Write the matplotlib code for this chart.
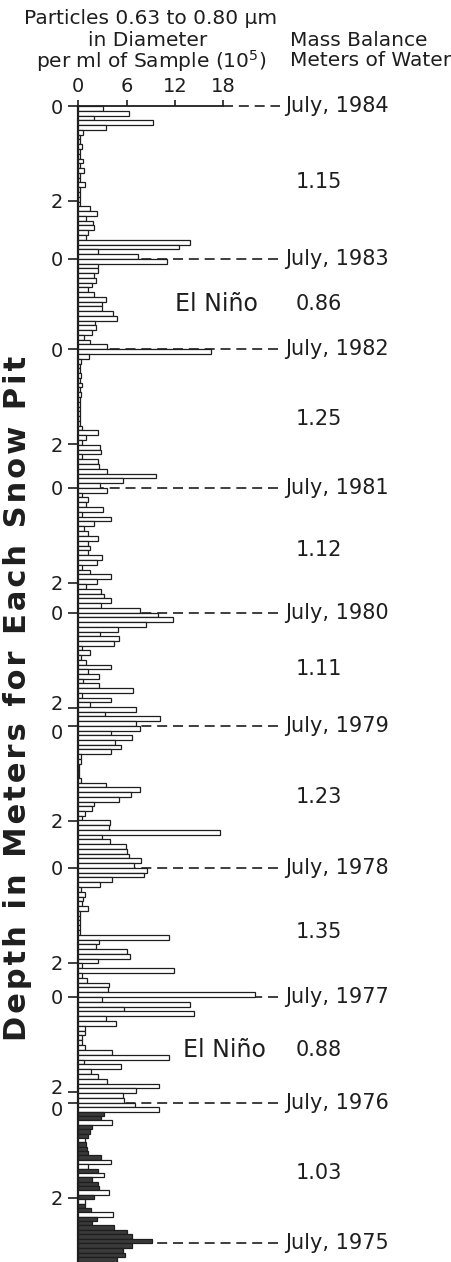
import matplotlib
matplotlib.use('Agg')
import matplotlib.pyplot as plt
from matplotlib.transforms import ScaledTranslation
import numpy as np

plt.rcParams['font.family'] = ['DejaVu Sans']

# July horizons, depth on a common scale (m) from the top of the 1984 pit
years = [1984, 1983, 1982, 1981, 1980, 1979, 1978, 1977, 1976, 1975]
july_depth = [0.0, 3.22, 5.12, 8.04, 10.67, 13.05, 16.04, 18.76, 20.99, 23.94]
bottom_depth = 24.34
# years whose pit shows a "2 m" tick below the July horizon
two_m_years = [1984, 1982, 1981, 1980, 1979, 1978, 1977, 1976]

mass_balance = ['1.15', '0.86', '1.25', '1.12', '1.11', '1.23', '1.35', '0.88', '1.03']
el_nino_layers = [1, 7]   # index of the layer (below that July line)

# particle counts (10^5 per ml), top to bottom, one list per annual layer
counts_1984 = [3.1, 6.3, 1.9, 9.3, 3.4, 0.6, 0.2, 0.15, 0.5, 0.15, 0.15, 0.6, 0.15, 0.7, 0.15, 0.15,
               0.8, 0.15, 0.15, 0.15, 0.2, 1.5, 2.3, 1.0, 1.8, 1.9, 1.2, 0.9, 13.9, 12.5, 2.5, 7.4]
counts_1983 = [11.0, 2.5, 2.5, 1.9, 2.2, 1.7, 1.2, 1.9, 3.4, 2.9, 3.0, 4.3, 4.8, 2.1, 2.2, 1.7,
               0.7, 1.4, 3.5]
counts_1982 = [16.4, 1.3, 0.3, 0.2, 0.2, 0.3, 0.2, 0.4, 0.2, 0.3, 0.2, 0.2, 0.2, 0.2, 0.2, 0.2,
               0.4, 2.4, 0.9, 0.4, 2.7, 2.8, 0.5, 2.4, 2.6, 3.5, 9.7, 5.5, 2.7]
counts_1981 = [3.5, 0.5, 1.2, 0.9, 3.1, 0.5, 4.0, 1.9, 0.7, 1.2, 2.4, 1.2, 1.4, 1.2, 2.9, 2.3,
               0.5, 1.4, 4.0, 2.3, 1.0, 2.8, 3.2, 4.1, 2.8, 7.6]
counts_1980 = [9.9, 11.7, 8.4, 4.9, 2.7, 5.0, 4.4, 0.4, 1.4, 0.3, 0.9, 4.0, 1.2, 2.6, 0.6, 2.6,
               6.8, 0.4, 4.0, 1.4, 7.2, 3.3, 10.1, 7.1]
counts_1979 = [7.7, 4.0, 6.7, 4.6, 5.3, 4.1, 0.3, 0.3, 0.1, 0.1, 0.1, 0.3, 3.4, 7.7, 6.5, 5.0,
               2.0, 1.7, 0.8, 0.4, 3.9, 3.8, 17.6, 3.0, 3.9, 5.9, 6.1, 6.3, 7.8, 6.9]
counts_1978 = [8.5, 8.1, 4.2, 2.7, 0.3, 0.8, 0.6, 0.5, 1.2, 0.2, 0.2, 0.2, 0.2, 0.2, 11.3, 2.6,
               2.2, 6.0, 6.4, 2.4, 0.5, 11.9, 0.5, 1.1, 3.8, 3.7, 21.9]
counts_1977 = [2.9, 13.9, 5.7, 14.4, 3.4, 4.7, 0.8, 0.8, 0.5, 0.4, 0.8, 4.2, 11.3, 0.7, 5.3, 1.6,
               2.4, 3.6, 10.0, 7.2, 5.5, 5.7]
counts_1976 = [7.0, 10.0, 3.2, 2.8, 4.2, 1.7, 1.5, 1.2, 0.8, 1.0, 1.1, 1.2, 2.8, 4.0, 1.2, 2.4,
               3.2, 1.7, 2.5, 2.6, 3.8, 2.0, 0.8, 0.8, 1.6, 4.3, 2.3, 1.7, 4.4, 6.1, 6.6, 9.2]
counts_1975 = [6.6, 5.6, 5.8, 4.8]
# dark (1) or open (0) bars in the lowest pit
dark_1976 = [0, 0, 1, 1, 0, 1, 1, 1, 0, 1, 1, 1, 1, 0, 0, 1, 0, 1, 1, 1, 0, 1, 0, 1, 1, 0, 1, 1,
             1, 1, 1, 1]
dark_1975 = [1, 1, 1, 1]

layers = [counts_1984, counts_1983, counts_1982, counts_1981, counts_1980,
          counts_1979, counts_1978, counts_1977, counts_1976, counts_1975]
shading = [None] * 8 + [dark_1976, dark_1975]

xticks = [0, 6, 12, 18]

ink = '#1e1e1e'
fig = plt.figure(figsize=(4.52, 12.62), dpi=100)
ax = fig.add_axes([78.3 / 452, 0, 145.1 / 452, 1156 / 1262])

bounds = july_depth + [bottom_depth]
for i, vals in enumerate(layers):
    top, bot = bounds[i], bounds[i + 1]
    h = (bot - top) / len(vals)
    centers = top + h * (np.arange(len(vals)) + 0.5)
    if shading[i] is None:
        fills = ['white'] * len(vals)
    else:
        fills = ['#3a3a3a' if d else 'white' for d in shading[i]]
    ax.barh(centers, vals, height=h, color=fills, edgecolor=ink, linewidth=0.9,
            clip_on=False, zorder=3)

# July horizons
for yr, d in zip(years, july_depth):
    x0 = 18 if yr == 1984 else 0
    ax.plot([x0, 25.0], [d, d], ls=(0, (6, 3.5)), color=ink, lw=1.2,
            clip_on=False, zorder=2)
    ax.text(25.65, d, f'July, {yr}', va='center', ha='left', fontsize=15, color=ink)

# mass balance and El Nino labels
for i, mb in enumerate(mass_balance):
    mid = (bounds[i] + bounds[i + 1]) / 2
    ax.text(27.0, mid, mb, va='center', ha='left', fontsize=15, color=ink)
    if i in el_nino_layers:
        ax.text(12.0 if i == 1 else 13.0, mid, 'El Niño', va='center', ha='left',
                fontsize=17, color=ink)

ax.set_xlim(0, 18)
ax.set_ylim(bottom_depth, 0)
for side in ['right', 'bottom']:
    ax.spines[side].set_visible(False)
ax.spines['left'].set_linewidth(1.6)
ax.spines['top'].set_linewidth(1.3)
ax.spines['left'].set_color(ink)
ax.spines['top'].set_color(ink)

ax.xaxis.tick_top()
ax.set_xticks(xticks, [str(t) for t in xticks])
ax.tick_params(axis='x', direction='out', length=4.5, width=1.2, labelsize=14,
               pad=2.6, colors=ink)

ypos = july_depth[:-1] + [july_depth[years.index(y)] + 2 for y in two_m_years]
ylab = ['0'] * (len(years) - 1) + ['2'] * len(two_m_years)
ax.set_yticks(ypos, ylab)
ax.tick_params(axis='y', direction='out', length=7, width=1.2, labelsize=14,
               pad=4, colors=ink)

# a "2" tick that sits close above the next "0": nudge the two labels apart
labels = ax.get_yticklabels()
for k, lab in enumerate(labels):
    p = ypos[k]
    near = [q for q in ypos if q != p and abs(q - p) < 0.5]
    if near:
        dy = 4 / 72 if near[0] > p else -4 / 72
        lab.set_transform(lab.get_transform() + ScaledTranslation(0, dy, fig.dpi_scale_trans))

# headers
fig.text(151 / 452, 1 - 18 / 1262, 'Particles 0.63 to 0.80 µm', ha='center', va='center',
         fontsize=14.5, color=ink)
fig.text(148 / 452, 1 - 41 / 1262, 'in Diameter', ha='center', va='center',
         fontsize=14.5, color=ink)
fig.text(151 / 452, 1 - 61 / 1262, r'per ml of Sample (10$^5$)', ha='center', va='center',
         fontsize=14.5, color=ink)
fig.text(290 / 452, 1 - 41 / 1262, 'Mass Balance', ha='left', va='center',
         fontsize=14.5, color=ink)
fig.text(290 / 452, 1 - 61 / 1262, 'Meters of Water', ha='left', va='center',
         fontsize=14.5, color=ink)

ylabel = '\u200a'.join('Depth in Meters for Each Snow Pit')
fig.text(18 / 452, 1 - 698 / 1262, ylabel, rotation=90,
         ha='center', va='center', fontsize=22, fontweight='bold', color=ink)

fig.savefig('out.png', dpi=100, facecolor='white')
